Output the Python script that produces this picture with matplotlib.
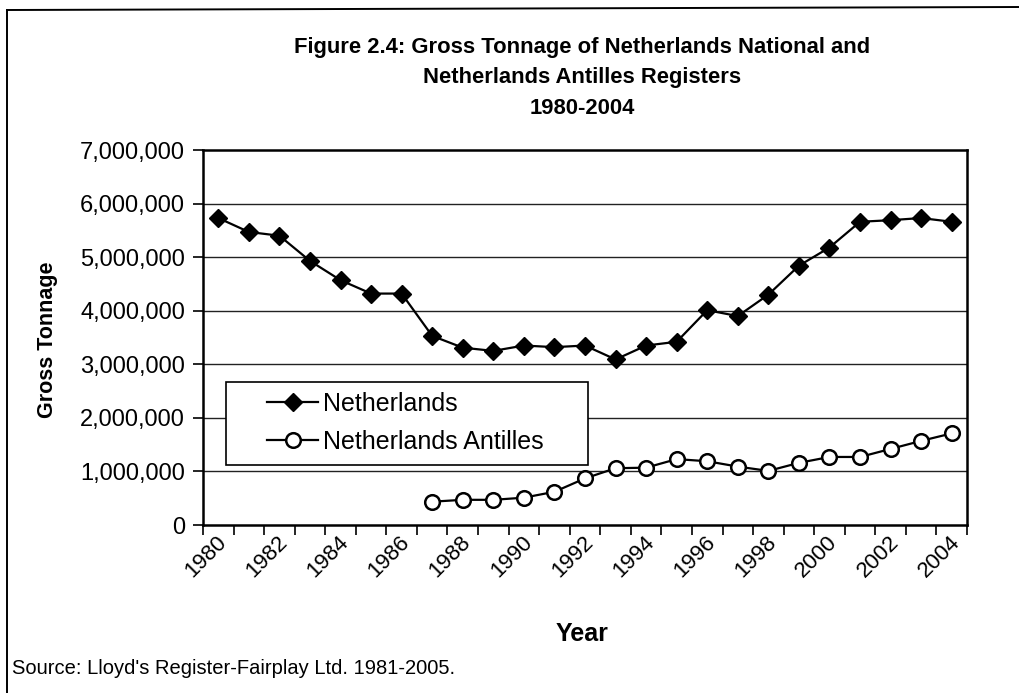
import numpy as np
import matplotlib
matplotlib.use('Agg')
import matplotlib.pyplot as plt
import matplotlib.transforms as mtransforms
from matplotlib.lines import Line2D
from matplotlib.patches import Rectangle
from matplotlib.ticker import FuncFormatter, FixedLocator

plt.rcParams['font.family'] = ['Liberation Sans', 'DejaVu Sans']

# ==========================================
# data
# ==========================================
years = list(range(1980, 2005))
netherlands = [5730000, 5470000, 5400000, 4930000, 4570000, 4320000, 4320000,
               3530000, 3310000, 3250000, 3350000, 3320000, 3350000, 3090000,
               3350000, 3420000, 4010000, 3900000, 4300000, 4840000, 5180000,
               5660000, 5690000, 5730000, 5660000]
antilles_years = list(range(1987, 2005))
antilles = [435000, 470000, 470000, 510000, 620000, 870000, 1060000, 1070000,
            1230000, 1190000, 1090000, 1010000, 1160000, 1270000, 1270000,
            1420000, 1570000, 1710000]
y_ticks = [0, 1000000, 2000000, 3000000, 4000000, 5000000, 6000000, 7000000]

W, H = 1020, 693
fig = plt.figure(figsize=(W / 100, H / 100), dpi=100)
ax = fig.add_axes([203 / W, 1 - 525 / H, 764 / W, 375 / H])

x_all = np.arange(len(years))
x_ant = np.array([years.index(y) for y in antilles_years])

ax.plot(x_all, netherlands, color='black', lw=1.6, marker='D', ms=9.5,
        mfc='black', mec='black', label='Netherlands', zorder=3)
ax.plot(x_ant, antilles, color='black', lw=1.6, marker='o', ms=10.5,
        mfc='white', mec='black', mew=1.8, label='Netherlands Antilles', zorder=3)

ax.set_xlim(-0.5, len(years) - 0.5)
ax.set_ylim(0, 7000000)

# y axis
ax.yaxis.set_major_locator(FixedLocator(y_ticks))
ax.yaxis.set_major_formatter(FuncFormatter(lambda v, p: f'{int(v):,}'))
ax.tick_params(axis='y', direction='out', length=7, width=1.2, labelsize=17, pad=6)
for v in y_ticks[1:-1]:
    ax.axhline(v, color='#222222', lw=1.0, zorder=1)

# x axis: ticks on category borders, labels on every other category centre
ax.xaxis.set_major_locator(FixedLocator(np.arange(-0.5, len(years), 1.0)))
ax.xaxis.set_major_formatter(FuncFormatter(lambda v, p: ''))
ax.tick_params(axis='x', which='major', direction='out', length=7, width=1.2)
ax.set_xticks(x_all[::2], minor=True)
ax.set_xticklabels([str(y) for y in years[::2]], minor=True, rotation=45,
                   ha='right', va='center', rotation_mode='anchor', fontsize=16)
ax.tick_params(axis='x', which='minor', length=0, pad=10)
shift = mtransforms.ScaledTranslation(5 / 100, 0, fig.dpi_scale_trans)
for lab in ax.get_xticklabels(minor=True):
    lab.set_transform(lab.get_transform() + shift)

for s in ax.spines.values():
    s.set_linewidth(1.8)
    s.set_color('black')

# legend: box drawn by hand, entries placed inside it
ax.add_patch(Rectangle((0.030, 0.16), 0.474, 0.221, transform=ax.transAxes,
                       facecolor='white', edgecolor='black', lw=1.2, zorder=4))
leg = ax.legend(loc='center left', bbox_to_anchor=(0.084, 0.272), fontsize=18,
                frameon=False, borderpad=0, labelspacing=0.55, handlelength=2.05,
                handletextpad=0.2, borderaxespad=0)
leg.set_zorder(5)

# titles and texts
fig.text(582 / W, 1 - 48 / H, 'Figure 2.4: Gross Tonnage of Netherlands National and',
         ha='center', va='center', fontsize=15.8, fontweight='bold')
fig.text(582 / W, 1 - 78 / H, 'Netherlands Antilles Registers',
         ha='center', va='center', fontsize=15.8, fontweight='bold')
fig.text(582 / W, 1 - 108 / H, '1980-2004',
         ha='center', va='center', fontsize=15.8, fontweight='bold')
fig.text(48 / W, 1 - 340 / H, 'Gross Tonnage', rotation=90,
         ha='center', va='center', fontsize=15.5, fontweight='bold')
fig.text(582 / W, 1 - 634 / H, 'Year', ha='center', va='center',
         fontsize=18, fontweight='bold')
fig.text(12 / W, 1 - 668 / H, "Source: Lloyd's Register-Fairplay Ltd. 1981-2005.",
         ha='left', va='center', fontsize=14.5)

# outer frame (top and left only, as in the scan)
fig.add_artist(Line2D([7 / W, 1.0], [1 - 10 / H, 1 - 7 / H],
                      transform=fig.transFigure, color='black', lw=1.4))
fig.add_artist(Line2D([7 / W, 7 / W], [1 - 10 / H, 0.0],
                      transform=fig.transFigure, color='black', lw=1.4))

fig.savefig('out.png', dpi=100)
